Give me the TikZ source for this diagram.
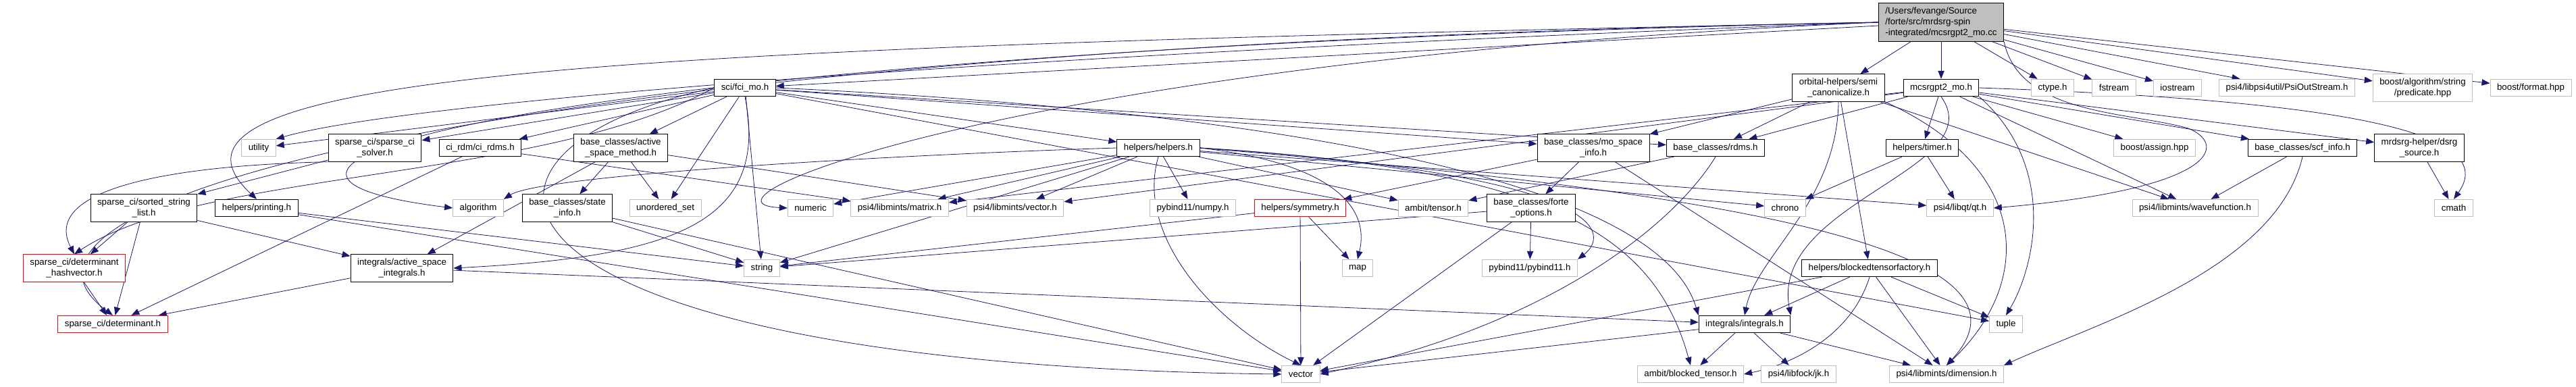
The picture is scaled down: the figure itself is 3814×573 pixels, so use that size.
\documentclass[tikz,border=0pt]{standalone}
\usepackage{fontspec}
\setmainfont{Liberation Sans}
\usetikzlibrary{arrows.meta}
\definecolor{edgeblue}{RGB}{25,25,112}
\definecolor{extgray}{RGB}{191,191,191}
\definecolor{rootgray}{RGB}{191,191,191}
\pgfdeclarelayer{background}
\pgfsetlayers{background,main}

\begin{document}
\begin{tikzpicture}[
    x=0.75pt, y=-0.75pt,
    font=\fontsize{10}{12}\selectfont,
    filebox/.style={rectangle, draw=black, fill=white, line width=0.75pt, align=center, inner xsep=7.5pt, inner ysep=4.5pt, minimum height=19pt},
    sysbox/.style={filebox, draw=extgray},
    warnbox/.style={filebox, draw=red},
    rootbox/.style={filebox, fill=rootgray, align=left},
    dep/.style={-{Triangle[length=9pt,width=7pt]}, edgeblue, line width=0.6pt}
]
    \useasboundingbox (0,0) rectangle (3814,573);

    % Rank 1: the source file
    \node[rootbox] (top) at (2874,33) {/Users/fevange/Source\\/forte/src/mrdsrg-spin\\-integrated/mcsrgpt2\_mo.cc};

    % Rank 2
    \node[filebox] (fcimo) at (1103,130) {sci/fci\_mo.h};
    \node[filebox] (semican) at (2722,130) {orbital-helpers/semi\\\_canonicalize.h};
    \node[filebox] (mcsrgh) at (2874,130) {mcsrgpt2\_mo.h};
    \node[sysbox] (ctype) at (3039,130) {ctype.h};
    \node[sysbox] (fstream) at (3130,130) {fstream};
    \node[sysbox] (iostream) at (3224,130) {iostream};
    \node[sysbox] (psiout) at (3386,130) {psi4/libpsi4util/PsiOutStream.h};
    \node[sysbox] (predicate) at (3587,130) {boost/algorithm/string\\/predicate.hpp};
    \node[sysbox] (format) at (3747,130) {boost/format.hpp};

    % Rank 3
    \node[sysbox] (utility) at (383,219) {utility};
    \node[filebox] (solver) at (555,219) {sparse\_ci/sparse\_ci\\\_solver.h};
    \node[filebox] (cirdms) at (711,219) {ci\_rdm/ci\_rdms.h};
    \node[filebox] (asmethod) at (919,219) {base\_classes/active\\\_space\_method.h};
    \node[filebox] (helpers) at (1715,219) {helpers/helpers.h};
    \node[filebox] (mospace) at (2359,219) {base\_classes/mo\_space\\\_info.h};
    \node[filebox] (rdms) at (2540,219) {base\_classes/rdms.h};
    \node[filebox] (timer) at (2846,219) {helpers/timer.h};
    \node[sysbox] (assign) at (3190,219) {boost/assign.hpp};
    \node[filebox] (scfinfo) at (3409,219) {base\_classes/scf\_info.h};
    \node[filebox] (dsrgsrc) at (3582,219) {mrdsrg-helper/dsrg\\\_source.h};

    % Rank 4
    \node[filebox] (sortedlist) at (213,308) {sparse\_ci/sorted\_string\\\_list.h};
    \node[filebox] (printing) at (380,308) {helpers/printing.h};
    \node[sysbox] (algorithm) at (708,308) {algorithm};
    \node[filebox] (stateinfo) at (840,308) {base\_classes/state\\\_info.h};
    \node[sysbox] (unordset) at (985,308) {unordered\_set};
    \node[sysbox] (numeric) at (1200,308) {numeric};
    \node[sysbox] (matrix) at (1332,308) {psi4/libmints/matrix.h};
    \node[sysbox] (vectorh) at (1503,308) {psi4/libmints/vector.h};
    \node[sysbox] (numpy) at (1766,308) {pybind11/numpy.h};
    \node[warnbox] (symmetry) at (1925,308) {helpers/symmetry.h};
    \node[sysbox] (tensor) at (2122,308) {ambit/tensor.h};
    \node[filebox] (forteopt) at (2267,308) {base\_classes/forte\\\_options.h};
    \node[sysbox] (chrono) at (2643,308) {chrono};
    \node[sysbox] (qt) at (2902,308) {psi4/libqt/qt.h};
    \node[sysbox] (wavefn) at (3250,308) {psi4/libmints/wavefunction.h};
    \node[sysbox] (cmath) at (3633,308) {cmath};

    % Rank 5
    \node[warnbox] (hashvec) at (110,397) {sparse\_ci/determinant\\\_hashvector.h};
    \node[filebox] (asints) at (595,397) {integrals/active\_space\\\_integrals.h};
    \node[sysbox] (string) at (1128,397) {string};
    \node[sysbox] (map) at (2010,397) {map};
    \node[sysbox] (pybind) at (2265,397) {pybind11/pybind11.h};
    \node[filebox] (btfactory) at (2768,397) {helpers/blockedtensorfactory.h};

    % Rank 6
    \node[warnbox] (det) at (167,480) {sparse\_ci/determinant.h};
    \node[filebox] (integrals) at (2583,480) {integrals/integrals.h};
    \node[sysbox] (tuple) at (2970,480) {tuple};

    % Rank 7
    \node[sysbox] (vector) at (1926,554) {vector};
    \node[sysbox] (blocked) at (2503,554) {ambit/blocked\_tensor.h};
    \node[sysbox] (jk) at (2663,554) {psi4/libfock/jk.h};
    \node[sysbox] (dimension) at (2882,554) {psi4/libmints/dimension.h};

    \begin{pgfonlayer}{background}
    % Includes of the source file
    \draw[dep] (top) -- (fcimo);
    \draw[dep] (top) -- (semican);
    \draw[dep] (top) -- (mcsrgh);
    \draw[dep] (top) -- (ctype);
    \draw[dep] (top) -- (fstream);
    \draw[dep] (top) -- (iostream);
    \draw[dep] (top) -- (psiout);
    \draw[dep] (top) -- (predicate);
    \draw[dep] (top) -- (format);
    \draw[dep] (top.west) .. controls (1500,80) and (600,150) .. (utility.north east);
    \draw[dep] (top.west) .. controls (1000,70) and (170,100) .. (printing.north);
    \draw[dep] (top.west) .. controls (800,75) and (200,250) .. (algorithm.west);
    \draw[dep] (top.west) .. controls (1500,90) and (1000,300) .. (numeric.west);
    \draw[dep] (top.west) .. controls (700,70) and (-60,300) .. (det.north);
    \draw[dep] (top.south east) .. controls (2990,170) and (3150,165) .. (3240,190)
        .. controls (3300,215) and (3280,280) .. (qt.east);

    % sci/fci_mo.h
    \draw[dep] (fcimo) -- (utility);
    \draw[dep] (fcimo) -- (solver);
    \draw[dep] (fcimo) -- (cirdms);
    \draw[dep] (fcimo) -- (asmethod);
    \draw[dep] (fcimo) -- (unordset);
    \draw[dep] (fcimo) -- (string);
    \draw[dep] (fcimo) -- (helpers);
    \draw[dep] (fcimo) -- (mospace);
    \draw[dep] (fcimo) -- (rdms);
    \draw[dep] (fcimo) -- (tuple);
    \draw[dep] (fcimo.south) .. controls (1140,330) and (1000,380) .. (asints.east);
    \draw[dep] (fcimo.west) .. controls (800,270) and (300,250) .. (hashvec.north);
    \draw[dep] (fcimo.west) .. controls (600,230) and (700,540) .. (vector.west);
    \draw[dep] (fcimo.east) .. controls (1800,160) and (2450,250) .. (integrals.north west);

    % sparse_ci and ci_rdm
    \draw[dep] (solver.south west) .. controls (250,245) and (60,280) .. (hashvec.north);
    \draw[dep] (solver) -- (sortedlist);
    \draw[dep] (cirdms) -- (det);
    \draw[dep] (cirdms) -- (matrix);
    \draw[dep] (sortedlist) -- (hashvec);
    \draw[dep] (sortedlist) -- (det);
    \draw[dep] (sortedlist) -- (asints);
    \draw[dep] (hashvec) -- (det);
    \draw[dep] (asints) -- (det);
    \draw[dep] (asints) -- (integrals);
    \draw[dep] (printing) -- (string);
    \draw[dep] (printing) -- (vector);

    % base_classes
    \draw[dep] (asmethod) -- (stateinfo);
    \draw[dep] (asmethod) -- (unordset);
    \draw[dep] (asmethod) -- (vectorh);
    \draw[dep] (asmethod) -- (asints);
    \draw[dep] (stateinfo) -- (string);
    \draw[dep] (stateinfo) -- (vector);
    \draw[dep] (mospace) -- (symmetry);
    \draw[dep] (mospace) -- (forteopt);
    \draw[dep] (mospace) -- (dimension);
    \draw[dep] (forteopt) -- (pybind);
    \draw[dep] (forteopt) -- (vector);
    \draw[dep] (forteopt) -- (string);
    \draw[dep] (rdms) -- (tensor);
    \draw[dep] (rdms.south) .. controls (2480,330) and (2300,480) .. (vector.east);
    \draw[dep] (scfinfo) -- (wavefn);
    \draw[dep] (scfinfo.south) .. controls (3370,400) and (3100,480) .. (dimension.north east);

    % helpers
    \draw[dep] (helpers.west) .. controls (1300,230) and (800,260) .. (algorithm.north east);
    \draw[dep] (helpers) -- (numeric);
    \draw[dep] (helpers) -- (matrix);
    \draw[dep] (helpers) -- (vectorh);
    \draw[dep] (helpers) -- (numpy);
    \draw[dep] (helpers) -- (string);
    \draw[dep] (helpers) -- (tensor);
    \draw[dep] (helpers) -- (chrono);
    \draw[dep] (helpers) -- (qt);
    \draw[dep] (helpers.south) .. controls (1680,350) and (1800,480) .. (vector.north);
    \draw[dep] (helpers.east) .. controls (1960,240) and (2030,300) .. (map.north);
    \draw[dep] (helpers.east) .. controls (2400,260) and (2380,350) .. (pybind.north east);
    \draw[dep] (helpers.east) .. controls (2300,250) and (2450,350) .. (blocked.north);
    \draw[dep] (helpers.east) .. controls (2500,280) and (3050,360) .. (dimension.north);
    \draw[dep] (symmetry) -- (map);
    \draw[dep] (symmetry) -- (vector);
    \draw[dep] (symmetry) -- (string);
    \draw[dep] (timer) -- (chrono);
    \draw[dep] (timer) -- (qt);

    % orbital-helpers/semi_canonicalize.h
    \draw[dep] (semican) -- (mospace);
    \draw[dep] (semican) -- (rdms);
    \draw[dep] (semican) -- (btfactory);
    \draw[dep] (semican) -- (wavefn);
    \draw[dep] (semican.south) .. controls (2720,300) and (2600,380) .. (integrals.north);
    \draw[dep] (semican.south east) .. controls (3010,250) and (3010,420) .. (dimension.north);

    % mcsrgpt2_mo.h
    \draw[dep] (mcsrgh) -- (rdms);
    \draw[dep] (mcsrgh) -- (timer);
    \draw[dep] (mcsrgh) -- (assign);
    \draw[dep] (mcsrgh) -- (scfinfo);
    \draw[dep] (mcsrgh) -- (dsrgsrc);
    \draw[dep] (mcsrgh) -- (matrix);
    \draw[dep] (mcsrgh) -- (vectorh);
    \draw[dep] (mcsrgh) -- (wavefn);
    \draw[dep] (mcsrgh.south) .. controls (2950,250) and (2620,300) .. (integrals.north east);
    \draw[dep] (mcsrgh.south east) .. controls (3050,250) and (3010,400) .. (tuple.north);
    \draw[dep] (mcsrgh.east) .. controls (3500,150) and (3700,200) .. (cmath.north);
    \draw[dep] (dsrgsrc) -- (cmath);

    % integrals
    \draw[dep] (btfactory) -- (integrals);
    \draw[dep] (btfactory) -- (tuple);
    \draw[dep] (btfactory) -- (dimension);
    \draw[dep] (btfactory) -- (vector);
    \draw[dep] (btfactory.south) .. controls (2740,500) and (2650,540) .. (blocked.east);
    \draw[dep] (integrals) -- (blocked);
    \draw[dep] (integrals) -- (jk);
    \draw[dep] (integrals) -- (dimension);
    \draw[dep] (integrals) -- (vector);
    \end{pgfonlayer}
\end{tikzpicture}
\end{document}
